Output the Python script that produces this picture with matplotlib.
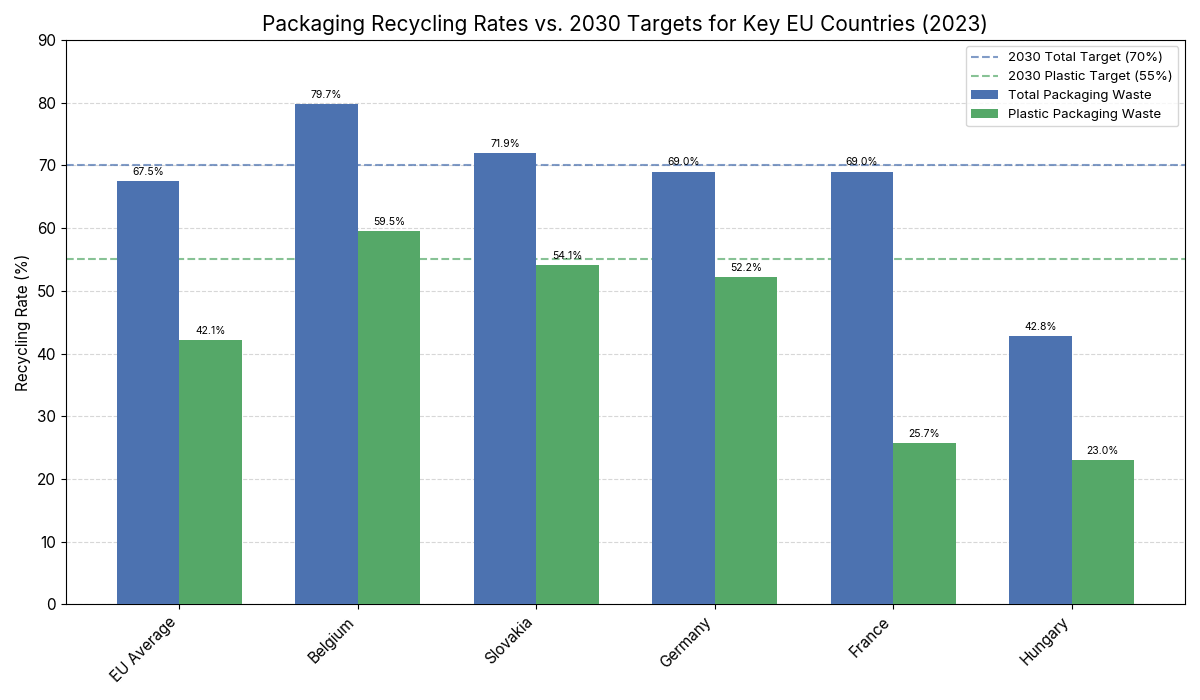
import matplotlib
matplotlib.use("Agg")
import matplotlib.pyplot as plt
import numpy as np

plt.rcParams['font.family'] = ['Inter', 'DejaVu Sans']

countries = ['EU Average', 'Belgium', 'Slovakia', 'Germany', 'France', 'Hungary']
total_rates = [67.5, 79.7, 71.9, 69.0, 69.0, 42.8]
plastic_rates = [42.1, 59.5, 54.1, 52.2, 25.7, 23.0]
total_target = 70
plastic_target = 55

blue = '#4C72B0'
green = '#55A868'

x = np.arange(len(countries))
width = 0.35

fig, ax = plt.subplots(figsize=(12, 7), dpi=100)

bars1 = ax.bar(x - width / 2, total_rates, width, color=blue, label='Total Packaging Waste', zorder=3)
bars2 = ax.bar(x + width / 2, plastic_rates, width, color=green, label='Plastic Packaging Waste', zorder=3)

ax.axhline(total_target, color=blue, linestyle='--', alpha=0.7, linewidth=1.5,
           label=f'2030 Total Target ({total_target}%)', zorder=2)
ax.axhline(plastic_target, color=green, linestyle='--', alpha=0.7, linewidth=1.5,
           label=f'2030 Plastic Target ({plastic_target}%)', zorder=2)

# value labels on top of bars
for bars in (bars1, bars2):
    for b in bars:
        h = b.get_height()
        ax.annotate(f'{h:.1f}%', xy=(b.get_x() + b.get_width() / 2, h),
                    xytext=(0, 3), textcoords='offset points',
                    ha='center', va='bottom', fontsize=7.5)

ax.set_title('Packaging Recycling Rates vs. 2030 Targets for Key EU Countries (2023)', fontsize=15)
ax.set_ylabel('Recycling Rate (%)', fontsize=11)
ax.set_xticks(x)
ax.set_xticklabels(countries, rotation=45, ha='right', fontsize=11)
ax.tick_params(axis='y', labelsize=11)
ax.set_ylim(0, 90)
ax.yaxis.grid(True, linestyle='--', alpha=0.5, zorder=0)

ax.legend(loc='upper right', fontsize=9.5)

plt.tight_layout()
plt.savefig('out.png')
